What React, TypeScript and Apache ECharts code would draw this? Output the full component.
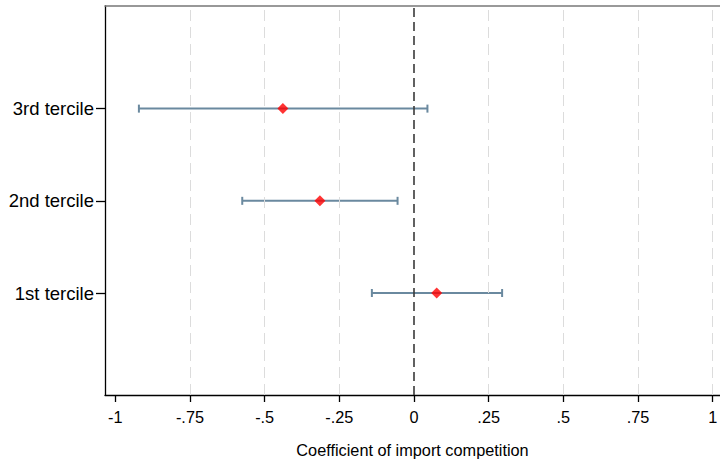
import React, { useEffect, useRef } from "react";
import * as echarts from "echarts";

const categories = ["1st tercile", "2nd tercile", "3rd tercile"];
const categoryPos = [1, 2, 3];
const pointEstimates = [0.076, -0.315, -0.439];
const ciLower = [-0.141, -0.575, -0.921];
const ciUpper = [0.295, -0.055, 0.045];
const xTickValues = [-1, -0.75, -0.5, -0.25, 0, 0.25, 0.5, 0.75, 1];
const xTickLabels = ["-1", "-.75", "-.5", "-.25", "0", ".25", ".5", ".75", "1"];
const gridLineValues = [-0.75, -0.5, -0.25, 0.25, 0.5, 0.75, 1];
const xTitle = "Coefficient of import competition";

const FONT = "'Liberation Sans', Arial, Helvetica, sans-serif";

export default function App() {
  const ref = useRef<HTMLDivElement>(null);
  useEffect(() => {
    document.body.style.margin = "0";
    if (!ref.current) return;
    const chart = echarts.init(ref.current, undefined, { renderer: "svg" });
    const ciData = categoryPos.map((y, i) => [ciLower[i], ciUpper[i], y]);
    const ptData = categoryPos.map((y, i) => [pointEstimates[i], y]);
    chart.setOption({
      animation: false,
      backgroundColor: "#ffffff",
      grid: {
        left: 105,
        right: 0,
        top: 6,
        bottom: 64,
        containLabel: false,
        outerBoundsMode: "none",
      },
      xAxis: [
        {
          type: "value",
          min: -1.0345,
          max: 1.0245,
          position: "bottom",
          name: xTitle,
          nameLocation: "middle",
          nameGap: 47,
          nameTextStyle: { fontFamily: FONT, fontSize: 16.3, color: "#000", verticalAlign: "top" },
          axisLine: { show: true, onZero: false, lineStyle: { color: "#000", width: 1.3 } },
          axisTick: {
            show: true,
            length: 7,
            customValues: xTickValues,
            lineStyle: { color: "#000", width: 1.3 },
          },
          axisLabel: {
            show: true,
            customValues: xTickValues,
            margin: 14,
            fontFamily: FONT,
            fontSize: 16.3,
            color: "#000",
            formatter: (v: number) => {
              const idx = xTickValues.findIndex((t) => Math.abs(t - v) < 1e-6);
              return idx >= 0 ? xTickLabels[idx] : "";
            },
          },
          splitLine: { show: false },
        },
        {
          type: "value",
          min: -1.0345,
          max: 1.0245,
          position: "top",
          axisLine: { show: true, onZero: false, lineStyle: { color: "#777", width: 1.5 } },
          axisTick: { show: false },
          axisLabel: { show: false },
          splitLine: { show: false },
        },
      ],
      yAxis: {
        type: "value",
        min: -0.106,
        max: 4.113,
        position: "left",
        axisLine: { show: true, onZero: false, lineStyle: { color: "#000", width: 1.3 } },
        axisTick: {
          show: true,
          length: 9,
          customValues: categoryPos,
          lineStyle: { color: "#000", width: 1.3 },
        },
        axisLabel: {
          show: true,
          customValues: categoryPos,
          margin: 11,
          fontFamily: FONT,
          fontSize: 18.5,
          color: "#000",
          formatter: (v: number) => {
            const idx = categoryPos.findIndex((t) => Math.abs(t - v) < 1e-6);
            return idx >= 0 ? categories[idx] : "";
          },
        },
        splitLine: { show: false },
      },
      series: [
        {
          type: "line",
          data: [],
          xAxisIndex: 0,
          silent: true,
          markLine: {
            silent: true,
            symbol: "none",
            label: { show: false },
            data: [
              ...gridLineValues.map((v) => ({
                xAxis: v,
                lineStyle: { color: "#dcdcdc", width: 1, type: [11, 6] },
              })),
              {
                xAxis: 0,
                lineStyle: { color: "#3a3a3a", width: 1.6, type: [9, 5] },
              },
            ],
          },
        },
        {
          type: "custom",
          xAxisIndex: 0,
          data: ciData,
          encode: { x: [0, 1], y: 2 },
          renderItem: (params: any, api: any) => {
            const lo = api.coord([api.value(0), api.value(2)]);
            const hi = api.coord([api.value(1), api.value(2)]);
            const cap = 4;
            const style = { stroke: "#6a899f", lineWidth: 2 };
            return {
              type: "group",
              children: [
                { type: "line", shape: { x1: lo[0], y1: lo[1], x2: hi[0], y2: hi[1] }, style },
                { type: "line", shape: { x1: lo[0], y1: lo[1] - cap, x2: lo[0], y2: lo[1] + cap }, style },
                { type: "line", shape: { x1: hi[0], y1: hi[1] - cap, x2: hi[0], y2: hi[1] + cap }, style },
              ],
            };
          },
        },
        {
          type: "scatter",
          xAxisIndex: 0,
          data: ptData,
          symbol: "diamond",
          symbolSize: 11,
          itemStyle: { color: "#ff0000" },
          z: 5,
        },
      ],
    });
    return () => chart.dispose();
  }, []);
  return <div ref={ref} style={{ width: 720, height: 459 }} />;
}
